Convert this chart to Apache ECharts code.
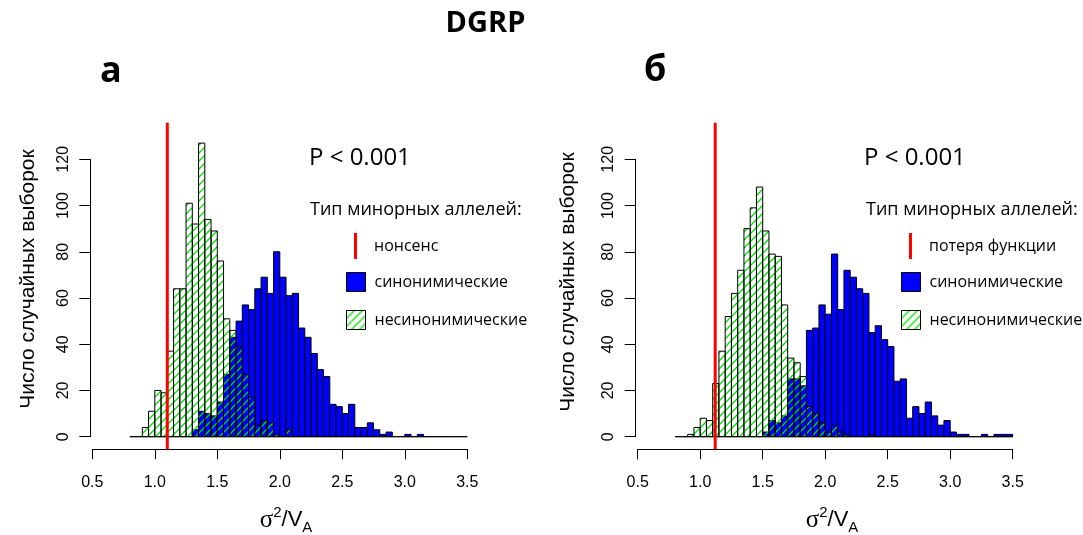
<!DOCTYPE html>
<html>
<head>
<meta charset="utf-8">
<script src="https://cdn.jsdelivr.net/npm/echarts@6/dist/echarts.min.js"></script>
<style>
html,body{margin:0;padding:0;background:#fff;}
#chart{width:1083px;height:535px;}
</style>
</head>
<body>
<div id="chart"></div>
<script>
// ---- data ----
const binLower = [0.80,0.85,0.90,0.95,1.00,1.05,1.10,1.15,1.20,1.25,1.30,1.35,1.40,1.45,1.50,1.55,1.60,1.65,1.70,1.75,1.80,1.85,1.90,1.95,2.00,2.05,2.10,2.15,2.20,2.25,2.30,2.35,2.40,2.45,2.50,2.55,2.60,2.65,2.70,2.75,2.80,2.85,2.90,2.95,3.00,3.05,3.10,3.15,3.20,3.25,3.30,3.35,3.40,3.45];
const binWidth = 0.05;

// panel а
const synA =    [0,0,0,0,0,0,0,0,0,0,3,11,10,9,15,27,43,50,57,55,64,69,62,80,69,61,62,47,43,36,29,26,14,13,10,14,4,4,6,3,1,2,0,0,1,0,1,0,0,0,0,0,0,0];
const nonsynA = [0,0,4,11,20,19,37,64,64,101,92,127,94,89,76,51,46,39,27,17,5,7,6,1,0,3,0,0,0,0,0,0,0,0,0,0,0,0,0,0,0,0,0,0,0,0,0,0,0,0,0,0,0,0];
const refA = [1.10];

// panel б
const synB =    [0,0,0,0,0,0,0,0,0,0,0,0,0,0,2,7,6,9,25,25,22,46,47,57,53,79,55,72,69,64,62,45,48,42,39,24,25,8,13,10,15,9,5,7,2,1,1,0,0,1,0,1,1,1];
const nonsynB = [0,0,1,4,8,7,23,37,52,62,72,90,99,108,89,79,78,57,34,32,26,13,10,6,2,5,2,1,0,0,0,1,0,0,0,0,0,0,0,0,0,0,0,0,0,0,0,0,0,0,0,0,0,0];
const refB = [1.12];

const xTicks = [0.5,1.0,1.5,2.0,2.5,3.0,3.5];
const yTicks = [0,20,40,60,80,100,120];

const title = 'DGRP';
const panelLabels = ['а','б'];
const pText = 'P < 0.001';
const legendHeading = 'Тип минорных аллелей:';
const refNames = ['нонсенс','потеря функции'];
const synName = 'синонимические';
const nonsynName = 'несинонимические';
const yTitle = 'Число случайных выборок';

// ---- styles ----
const BLUE = '#0000ff';
const RED = '#ff0000';
const GREEN = '#00dd00';
function makeHatch(){
  const c = document.createElement('canvas');
  c.width = 8; c.height = 8;
  const g = c.getContext('2d');
  g.strokeStyle = GREEN;
  g.lineWidth = 1.3;
  g.beginPath();
  g.moveTo(-2,10); g.lineTo(10,-2);
  g.moveTo(-2,2); g.lineTo(2,-2);
  g.moveTo(6,10); g.lineTo(10,6);
  g.stroke();
  return c;
}
const hatch = {image: makeHatch(), repeat: 'repeat'};

function histData(counts){
  return binLower.map((x, i) => [x, +(x + binWidth).toFixed(2), counts[i]]);
}
function histRender(fill){
  return function(params, api){
    const x0 = api.value(0), x1 = api.value(1), y = api.value(2);
    const p0 = api.coord([x0, y]);
    const p1 = api.coord([x1, 0]);
    if (y === 0) {
      return {type:'line', shape:{x1:p0[0], y1:p1[1], x2:p1[0], y2:p1[1]}, style:{stroke:'#000', lineWidth:1}};
    }
    return {type:'rect', shape:{x:p0[0], y:p0[1], width:p1[0]-p0[0], height:p1[1]-p0[1]},
      style:{fill: fill, stroke:'#000', lineWidth:1}};
  };
}
function refRender(params, api){
  const cs = params.coordSys;
  const x = api.coord([api.value(0), 0])[0];
  return {type:'line', shape:{x1:x, y1:cs.y - 36.6, x2:x, y2:cs.y + cs.height + 12.6},
    style:{stroke:RED, lineWidth:3}};
}

const FONT = 'Open Sans';
const AXFONT = 'Liberation Sans';

function xAxisCfg(idx){
  return {gridIndex: idx, type:'value', min:0.5, max:3.5, interval:0.5, offset:12.6,
    axisLine:{show:true, onZero:false, lineStyle:{color:'#000', width:1}},
    axisTick:{show:true, length:10, lineStyle:{color:'#000'}},
    axisLabel:{margin:25, fontFamily:AXFONT, fontSize:16, color:'#000', formatter: v => v.toFixed(1)},
    splitLine:{show:false}};
}
function yAxisCfg(idx){
  return {gridIndex: idx, type:'value', min:0, max:120, interval:20, offset:2,
    axisLine:{show:true, lineStyle:{color:'#000', width:1}},
    axisTick:{show:true, length:11, lineStyle:{color:'#000'}},
    axisLabel:{margin:19, rotate:90, fontFamily:AXFONT, fontSize:16, color:'#000'},
    splitLine:{show:false}};
}

// legend icon: thin vertical bar centred in a 19x26 box (moveTo points set the box)
const REDICON = 'path://M0,0M8,0h3v26h-3zM19,26';
function legendRow(left, top, name, icon, w, h, itemStyle){
  return {left:left, top:top, padding:0, orient:'vertical', itemWidth:w, itemHeight:h,
    selectedMode:false, textStyle:{fontFamily:FONT, fontSize:16, color:'#000', padding:[0,0,0,4]},
    data:[{name:name, icon:icon, itemStyle:itemStyle}]};
}
function legendSet(left, refName){
  return [
    legendRow(left, 233, refName, REDICON, 19, 26, {color:RED, borderWidth:0}),
    legendRow(left, 272, synName, 'rect', 19, 19, {color:BLUE, borderColor:'#000', borderWidth:1}),
    legendRow(left, 310, nonsynName, 'rect', 19, 19, {color:hatch, borderColor:'#000', borderWidth:1})
  ];
}

const xTitleRich = {
  s:{fontFamily:'Liberation Serif', fontSize:25, lineHeight:30, verticalAlign:'middle', fill:'#000'},
  sup:{fontFamily:AXFONT, fontSize:15, verticalAlign:'top', fill:'#000'},
  n:{fontFamily:AXFONT, fontSize:22, lineHeight:30, verticalAlign:'middle', fill:'#000'},
  sub:{fontFamily:AXFONT, fontSize:15, verticalAlign:'bottom', fill:'#000'}
};
function textEl(x, y, text, size, bold, align){
  return {type:'text', x:x, y:y, silent:true,
    style:{text:text, fontFamily:FONT, fontSize:size, fontWeight: bold ? 'bold' : 'normal',
      fill:'#000', align: align || 'left', verticalAlign:'middle'}};
}

const option = {
  animation:false,
  backgroundColor:'#fff',
  grid:[
    {left:92.3, right:1083-467.3, top:159.3, bottom:535-436.7},
    {left:637.7, right:1083-1012.7, top:159.3, bottom:535-436.7}
  ],
  xAxis:[xAxisCfg(0), xAxisCfg(1)],
  yAxis:[yAxisCfg(0), yAxisCfg(1)],
  legend: legendSet(346, refNames[0]).concat(legendSet(901, refNames[1])),
  series:[
    {type:'custom', name:synName, xAxisIndex:0, yAxisIndex:0, data:histData(synA), renderItem:histRender(BLUE), clip:false, itemStyle:{color:BLUE}},
    {type:'custom', name:nonsynName, xAxisIndex:0, yAxisIndex:0, data:histData(nonsynA), renderItem:histRender(hatch), clip:false, itemStyle:{color:GREEN}},
    {type:'custom', name:refNames[0], xAxisIndex:0, yAxisIndex:0, data:refA.map(v=>[v]), renderItem:refRender, clip:false, itemStyle:{color:RED}},
    {type:'custom', name:synName, xAxisIndex:1, yAxisIndex:1, data:histData(synB), renderItem:histRender(BLUE), clip:false, itemStyle:{color:BLUE}},
    {type:'custom', name:nonsynName, xAxisIndex:1, yAxisIndex:1, data:histData(nonsynB), renderItem:histRender(hatch), clip:false, itemStyle:{color:GREEN}},
    {type:'custom', name:refNames[1], xAxisIndex:1, yAxisIndex:1, data:refB.map(v=>[v]), renderItem:refRender, clip:false, itemStyle:{color:RED}}
  ],
  graphic:[
    textEl(485.5, 24, title, 29, true, 'center'),
    textEl(100, 72, panelLabels[0], 36, true, 'left'),
    textEl(644, 71, panelLabels[1], 36, true, 'left'),
    textEl(309, 158, pText, 24, false, 'left'),
    textEl(864, 158, pText, 24, false, 'left'),
    textEl(310, 210, legendHeading, 18, false, 'left'),
    textEl(866, 210, legendHeading, 18, false, 'left'),
    {type:'text', x:286, y:520, silent:true, style:{text:'{s|σ}{sup|2}{n|/V}{sub|A}', rich:xTitleRich, align:'center', verticalAlign:'middle'}},
    {type:'text', x:832, y:520, silent:true, style:{text:'{s|σ}{sup|2}{n|/V}{sub|A}', rich:xTitleRich, align:'center', verticalAlign:'middle'}},
    {type:'text', x:28, y:279, rotation:Math.PI/2, silent:true, style:{text:yTitle, fontFamily:AXFONT, fontSize:21, fill:'#000', align:'center', verticalAlign:'middle'}},
    {type:'text', x:568, y:282, rotation:Math.PI/2, silent:true, style:{text:yTitle, fontFamily:AXFONT, fontSize:21, fill:'#000', align:'center', verticalAlign:'middle'}}
  ]
};

const chart = echarts.init(document.getElementById('chart'), null, {renderer:'canvas'});
chart.setOption(option);
</script>
</body>
</html>
